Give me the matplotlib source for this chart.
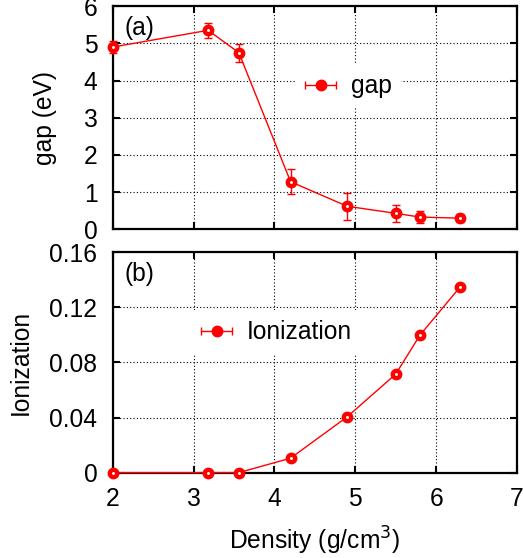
import numpy as np
import matplotlib.pyplot as plt
from matplotlib.ticker import FixedLocator
from matplotlib.legend_handler import HandlerErrorbar

plt.rcParams['font.family'] = ['Liberation Sans', 'DejaVu Sans']

# ── data ──
density = [2.0, 3.18, 3.56, 4.2, 4.9, 5.5, 5.8, 6.3]
gap = [4.9, 5.35, 4.75, 1.28, 0.62, 0.43, 0.33, 0.30]
gap_err = [0.15, 0.2, 0.24, 0.34, 0.36, 0.22, 0.16, 0.1]
ionization = [0.0, 0.0, 0.0, 0.0105, 0.0405, 0.0715, 0.0998, 0.135]
ion_err = [0.0, 0.0, 0.0, 0.0008, 0.0015, 0.0015, 0.0015, 0.0015]

gap_ticks = [0, 1, 2, 3, 4, 5, 6]
ion_ticks = [0, 0.04, 0.08, 0.12, 0.16]
ion_labels = ["0", "0.04", "0.08", "0.12", "0.16"]
x_ticks = [2, 3, 4, 5, 6, 7]

RED = "#ff0000"
FS = 17.7

fig = plt.figure(figsize=(5.23, 5.58), dpi=100)
ax1 = fig.add_axes([0.2155, 0.589, 0.773, 0.400])
ax2 = fig.add_axes([0.2155, 0.153, 0.773, 0.395])


def style(ax):
    ax.set_xlim(2, 7)
    ax.xaxis.set_major_locator(FixedLocator(x_ticks))
    ax.grid(True, color="black", linestyle=(0, (1, 2)), linewidth=0.8)
    ax.set_axisbelow(True)
    ax.tick_params(direction="in", top=True, right=True, length=5,
                   width=1.5, labelsize=FS)
    ax.tick_params(axis="x", pad=10)
    ax.tick_params(axis="y", pad=11)
    for s in ax.spines.values():
        s.set_linewidth(1.6)


def draw(ax, y, yerr):
    ax.errorbar(density, y, yerr=yerr, color=RED, marker="o", markersize=7.5,
                linewidth=1, elinewidth=1, capsize=3, capthick=1,
                clip_on=False, zorder=3)
    # small highlight in each dot, like the gnuplot terminal does
    ax.plot(density, y, "o", color="white", markersize=1.1, clip_on=False,
            zorder=4)
    # proxy with horizontal bar for the legend key (gnuplot style)
    proxy = ax.errorbar([np.nan], [np.nan], xerr=[1], color=RED, marker="o",
                        markersize=7.5, linestyle="none", elinewidth=1,
                        capsize=3, capthick=1)
    return proxy


def add_legend(ax, handle, text, x0, y0):
    leg = ax.legend([handle], [text], loc="center left",
                    bbox_to_anchor=(x0, y0), fontsize=FS, frameon=True,
                    handlelength=1.24, handletextpad=0.6, borderpad=0.4,
                    borderaxespad=0, fancybox=False, framealpha=1,
                    handler_map={type(handle): HandlerErrorbar(xerr_size=0.62)})
    leg.get_frame().set_edgecolor("none")


# ── Panel (a): gap ──
style(ax1)
p1 = draw(ax1, gap, gap_err)
ax1.set_ylim(0, 6)
ax1.yaxis.set_major_locator(FixedLocator(gap_ticks))
ax1.tick_params(labelbottom=False)
ax1.set_ylabel("gap (eV)", fontsize=FS, va="center")
ax1.yaxis.set_label_coords(-0.1675, 0.5)
ax1.text(0.03, 0.955, "(a)", transform=ax1.transAxes, fontsize=FS,
         ha="left", va="top")
add_legend(ax1, p1, "gap", 0.452, 0.64)

# ── Panel (b): ionization ──
style(ax2)
p2 = draw(ax2, ionization, ion_err)
ax2.set_ylim(0, 0.16)
ax2.yaxis.set_major_locator(FixedLocator(ion_ticks))
ax2.set_yticklabels(ion_labels)
ax2.set_ylabel("Ionization", fontsize=FS, va="center")
ax2.yaxis.set_label_coords(-0.227, 0.5)
ax2.set_xlabel("Density (g/cm$^3$)", fontsize=FS, labelpad=10)
ax2.text(0.03, 0.955, "(b)", transform=ax2.transAxes, fontsize=FS,
         ha="left", va="top")
add_legend(ax2, p2, "Ionization", 0.195, 0.6375)

fig.savefig("out.png", dpi=100)
